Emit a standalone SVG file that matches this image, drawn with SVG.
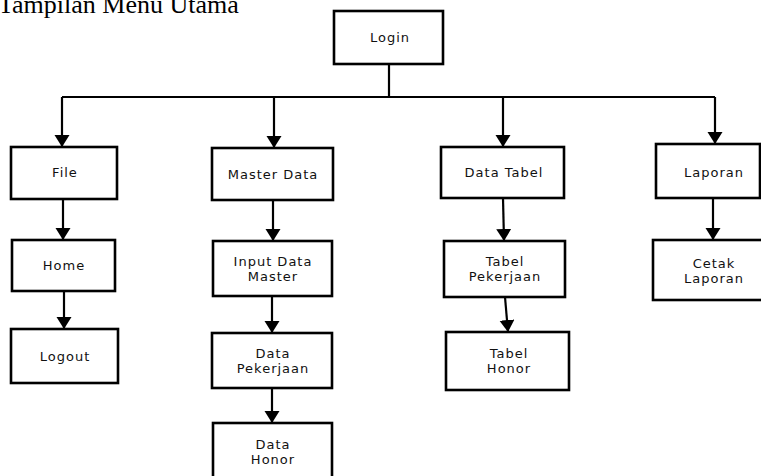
<svg xmlns="http://www.w3.org/2000/svg" width="761" height="476" viewBox="0 0 761 476">
  <style>
    .box { fill: #ffffff; stroke: #000000; stroke-width: 2.6; }
    .lbl { font-family: "DejaVu Sans", Verdana, sans-serif; font-size: 13px; letter-spacing: 1px; fill: #111111; text-anchor: middle; }
    .wire { fill: none; stroke: #000000; stroke-width: 2.2; }
    .title { font-family: "Liberation Serif", "Times New Roman", serif; font-size: 26px; fill: #000000; }
  </style>
  <defs>
    <marker id="arrow" markerUnits="userSpaceOnUse" markerWidth="14" markerHeight="16" refX="12" refY="7.5" orient="auto">
      <path d="M0,0 L12,7.5 L0,15 Z" fill="#000000"/>
    </marker>
  </defs>

  <rect width="761" height="476" fill="#ffffff"/>

  <text class="title" x="-2" y="13">Tampilan Menu Utama</text>

  <!-- connectors -->
  <g id="connectors">
    <path class="wire" d="M389,64 V97 M62,97 H715"/>
    <path class="wire" d="M62,97 V147" marker-end="url(#arrow)"/>
    <path class="wire" d="M274,97 V148" marker-end="url(#arrow)"/>
    <path class="wire" d="M503,97 V147" marker-end="url(#arrow)"/>
    <path class="wire" d="M715,97 V144" marker-end="url(#arrow)"/>

    <path class="wire" d="M63,199 V240" marker-end="url(#arrow)"/>
    <path class="wire" d="M64,291 V329" marker-end="url(#arrow)"/>

    <path class="wire" d="M273,200 V241" marker-end="url(#arrow)"/>
    <path class="wire" d="M272,296 V333" marker-end="url(#arrow)"/>
    <path class="wire" d="M272,388 V423" marker-end="url(#arrow)"/>

    <path class="wire" d="M503,198 L504,241" marker-end="url(#arrow)"/>
    <path class="wire" d="M505,297 L508,332" marker-end="url(#arrow)"/>

    <path class="wire" d="M713,198 V240" marker-end="url(#arrow)"/>
  </g>

  <!-- menu nodes -->
  <g id="login">
    <rect class="box" x="334" y="11" width="109" height="53"/>
    <text class="lbl" x="390" y="42">Login</text>
  </g>

  <g id="file">
    <rect class="box" x="11" y="147" width="106" height="52"/>
    <text class="lbl" x="65" y="177">File</text>
  </g>
  <g id="home">
    <rect class="box" x="12" y="240" width="103" height="51"/>
    <text class="lbl" x="64" y="270">Home</text>
  </g>
  <g id="logout">
    <rect class="box" x="11" y="329" width="107" height="54"/>
    <text class="lbl" x="65" y="361">Logout</text>
  </g>

  <g id="master-data">
    <rect class="box" x="212" y="148" width="121" height="52"/>
    <text class="lbl" x="273" y="179">Master Data</text>
  </g>
  <g id="input-data-master">
    <rect class="box" x="213" y="241" width="119" height="55"/>
    <text class="lbl" x="273" y="266">Input Data</text>
    <text class="lbl" x="273" y="281">Master</text>
  </g>
  <g id="data-pekerjaan">
    <rect class="box" x="212" y="333" width="120" height="55"/>
    <text class="lbl" x="273" y="358">Data</text>
    <text class="lbl" x="273" y="373">Pekerjaan</text>
  </g>
  <g id="data-honor">
    <rect class="box" x="213" y="423" width="119" height="62"/>
    <text class="lbl" x="273" y="449">Data</text>
    <text class="lbl" x="273" y="464">Honor</text>
  </g>

  <g id="data-tabel">
    <rect class="box" x="441" y="147" width="123" height="51"/>
    <text class="lbl" x="504" y="177">Data Tabel</text>
  </g>
  <g id="tabel-pekerjaan">
    <rect class="box" x="444" y="241" width="121" height="56"/>
    <text class="lbl" x="505" y="266">Tabel</text>
    <text class="lbl" x="505" y="281">Pekerjaan</text>
  </g>
  <g id="tabel-honor">
    <rect class="box" x="446" y="332" width="123" height="58"/>
    <text class="lbl" x="509" y="358">Tabel</text>
    <text class="lbl" x="509" y="373">Honor</text>
  </g>

  <g id="laporan">
    <rect class="box" x="656" y="144" width="104" height="54"/>
    <text class="lbl" x="714" y="177">Laporan</text>
  </g>
  <g id="cetak-laporan">
    <rect class="box" x="653" y="240" width="115" height="60"/>
    <text class="lbl" x="714" y="268">Cetak</text>
    <text class="lbl" x="714" y="283">Laporan</text>
  </g>
</svg>
